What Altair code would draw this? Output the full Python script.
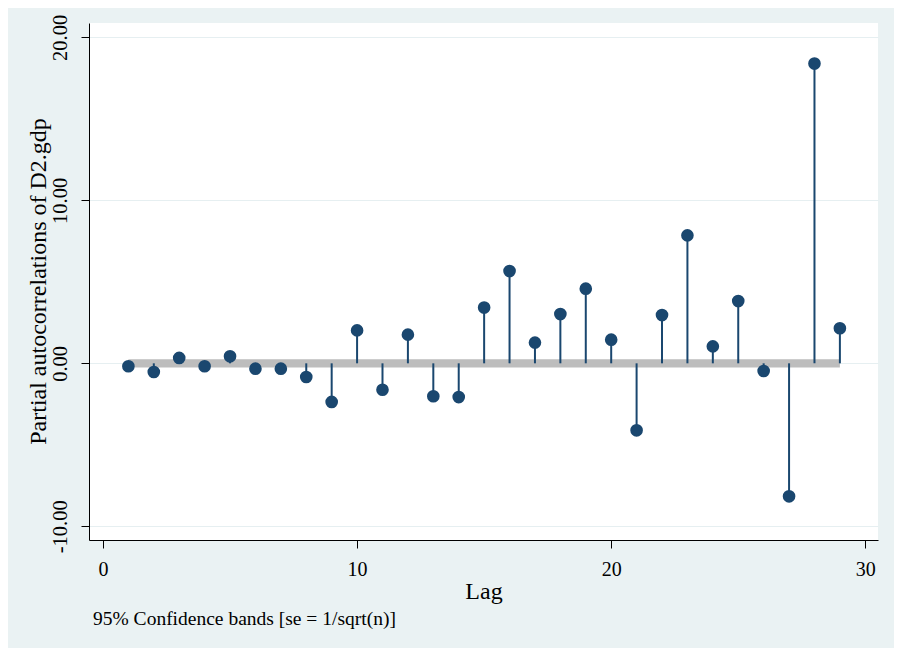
import altair as alt
import pandas as pd

lags = list(range(1, 30))
pacf = [-0.18, -0.53, 0.33, -0.18, 0.43, -0.33, -0.33, -0.84, -2.37, 2.02,
        -1.62, 1.76, -2.02, -2.07, 3.42, 5.66, 1.27, 3.02, 4.58, 1.45,
        -4.11, 2.96, 7.85, 1.04, 3.82, -0.47, -8.16, 18.39, 2.15]
band = [0.25] * 29

df = pd.DataFrame({"lag": lags, "pacf": pacf, "zero": [0.0] * 29,
                   "lo": [-b for b in band], "hi": band})

SERIF = "Liberation Serif"
NAVY = "#1a476f"

x = alt.X("lag:Q", scale=alt.Scale(domain=[-0.55, 30.5], nice=False, zero=False),
          axis=alt.Axis(values=[0, 10, 20, 30], title="Lag", grid=False,
                        labelFont=SERIF, labelFontSize=20, labelColor="black",
                        labelBaseline="alphabetic", labelPadding=27, labelFlush=False,
                        tickSize=8, tickColor="black", domainColor="black",
                        titleFont=SERIF, titleFontSize=24, titleFontWeight="normal",
                        titleColor="black", titleBaseline="alphabetic", titleY=58))

yscale = alt.Scale(domain=[-10.84, 20.88], nice=False, zero=False)
yaxis = alt.Axis(values=[-10, 0, 10, 20],
                 labelExpr="(datum.value < 0 ? '-' : '') + format(abs(datum.value), '.2f')",
                 title="Partial autocorrelations of D2.gdp",
                 grid=True, gridColor="#e6eff1", gridWidth=1.2,
                 labelFont=SERIF, labelFontSize=20.5, labelColor="black",
                 labelAngle=270, labelAlign="center", labelBaseline="alphabetic",
                 labelPadding=15, labelFlush=False,
                 tickSize=8, tickColor="black", domainColor="black",
                 titleFont=SERIF, titleFontSize=24, titleFontWeight="normal",
                 titleColor="black", titleAngle=270, titleAlign="center",
                 titleBaseline="alphabetic", titleX=-44, titleY=258)

base = alt.Chart(df)

area = base.mark_area(color="#bdbdbd", opacity=1).encode(
    x=x, y=alt.Y("lo:Q", scale=yscale, axis=yaxis), y2="hi:Q")

stems = base.mark_rule(color=NAVY, strokeWidth=2).encode(
    x="lag:Q", y="zero:Q", y2="pacf:Q")

dots = base.mark_circle(color=NAVY, size=160, opacity=1).encode(
    x="lag:Q", y="pacf:Q")

chart = alt.layer(area, stems, dots).properties(
    width=789, height=517,
    autosize=alt.AutoSizeParams(type="none"),
    padding={"left": 81, "top": 15, "right": 16, "bottom": 108},
    background="#eaf2f3",
    title=alt.TitleParams(
        "95% Confidence bands [se = 1/sqrt(n)]",
        orient="bottom", anchor="start", frame="group", font=SERIF, fontSize=19.5,
        fontWeight="normal", color="black", offset=22, dx=4, baseline="alphabetic"),
).configure_view(fill="white", stroke=None)

chart.save("out.html", embed_options={"renderer": "svg", "actions": False})
